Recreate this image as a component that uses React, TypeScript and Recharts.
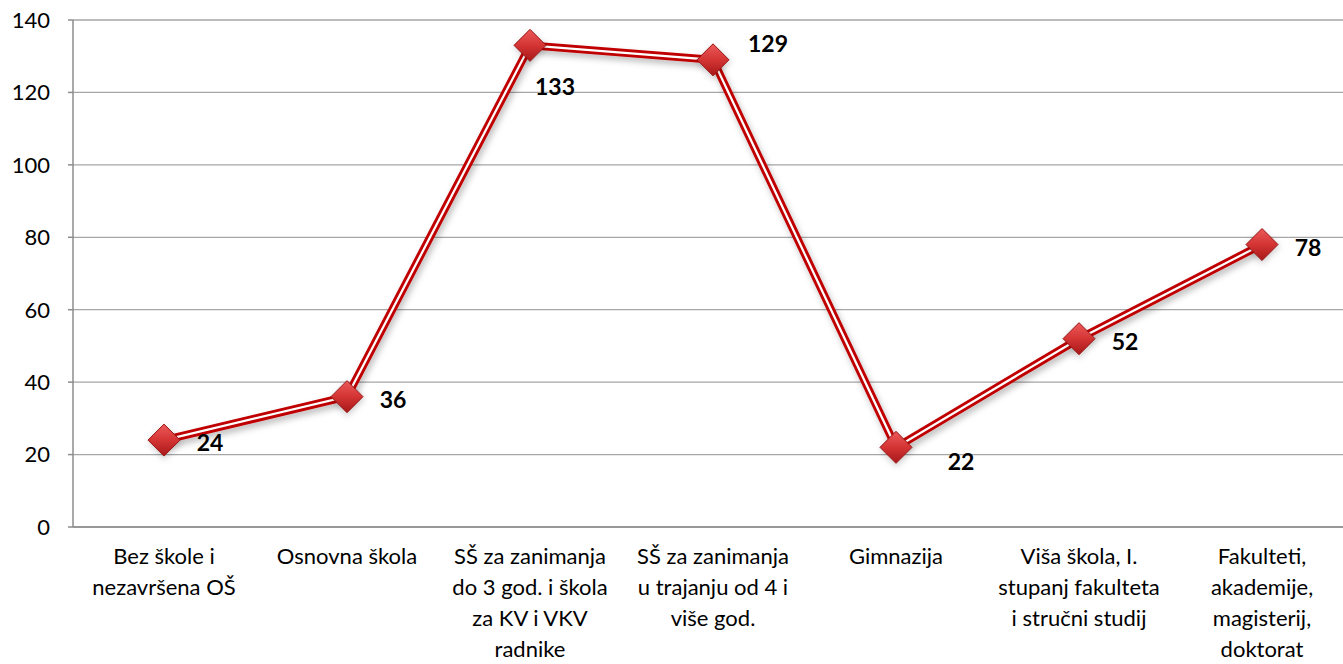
import React from "react";
import { CartesianGrid, LabelList, Line, LineChart, XAxis, YAxis } from "recharts";

const categories = [
  "Bez škole i\nnezavršena OŠ",
  "Osnovna škola",
  "SŠ za zanimanja\ndo 3 god. i škola\nza KV i VKV\nradnike",
  "SŠ za zanimanja\nu trajanju od 4 i\nviše god.",
  "Gimnazija",
  "Viša škola, I.\nstupanj fakulteta\ni stručni studij",
  "Fakulteti,\nakademije,\nmagisterij,\ndoktorat",
];
const values = [24, 36, 133, 129, 22, 52, 78];
const yTicks = [0, 20, 40, 60, 80, 100, 120, 140];
const labelPlacement = ["right", "right", "below", "above", "belowRight", "right", "right"];

const data = categories.map((c, i) => ({ name: c, value: values[i] }));

// offsets for the data labels
const placeOffset: Record<string, [number, number]> = {
  right: [46, 2],
  below: [25, 41],
  above: [55, -17],
  belowRight: [65, 14],
};

const font = "Lato, 'Open Sans', sans-serif";

const XTick = (props: any) => {
  const { x, y, payload } = props;
  const lines = String(payload.value).split("\n");
  return (
    <text x={x} y={y + 29} textAnchor="middle" fontSize={22} fill="#000" fontFamily={font}>
      {lines.map((l, i) => (
        <tspan key={i} x={x} dy={i === 0 ? 0 : 31}>
          {l}
        </tspan>
      ))}
    </text>
  );
};

const Diamond = (props: any) => {
  const { cx, cy } = props;
  if (cx == null || cy == null) return null;
  const r = 16;
  return (
    <g>
      <polygon
        points={`${cx},${cy - r + 2} ${cx + r + 2},${cy + 2} ${cx},${cy + r + 4} ${cx - r},${cy + 2}`}
        fill="rgba(0,0,0,0.18)"
        filter="url(#blur)"
      />
      <polygon
        points={`${cx},${cy - r} ${cx + r},${cy} ${cx},${cy + r} ${cx - r},${cy}`}
        fill="url(#diamondFill)"
        stroke="#9a1414"
        strokeWidth={1}
      />
    </g>
  );
};

const ValueLabel = (props: any) => {
  const { x, y, value, index } = props;
  const [dx, dy] = placeOffset[labelPlacement[index]] || [46, 2];
  return (
    <text
      x={x + dx}
      y={y + dy}
      textAnchor="middle"
      dominantBaseline="central"
      fontSize={23}
      fontWeight="bold"
      fill="#000"
      fontFamily={font}
    >
      {value}
    </text>
  );
};

export default function App() {
  return (
    <div style={{ position: "absolute", left: 0, top: 0, width: 1343, height: 664, background: "#fff" }}>
      <svg width={0} height={0} style={{ position: "absolute" }}>
        <defs>
          <linearGradient id="diamondFill" x1="0" y1="0" x2="0" y2="1">
            <stop offset="0%" stopColor="#ec5a5a" />
            <stop offset="50%" stopColor="#d43434" />
            <stop offset="100%" stopColor="#a81818" />
          </linearGradient>
          <filter id="blur" x="-50%" y="-50%" width="200%" height="200%">
            <feGaussianBlur stdDeviation="3" />
          </filter>
          <filter id="lineShadow" x="-10%" y="-10%" width="120%" height="120%">
            <feDropShadow dx="2" dy="4" stdDeviation="3" floodColor="#000" floodOpacity="0.25" />
          </filter>
        </defs>
      </svg>
      <LineChart width={1343} height={664} data={data} margin={{ top: 20, right: 0, bottom: 0, left: 0 }}>
        <CartesianGrid vertical={false} stroke="#a6a6a6" strokeWidth={1.3} />
        <XAxis
          dataKey="name"
          interval={0}
          tickLine={false}
          axisLine={{ stroke: "#8c8c8c", strokeWidth: 1.5 }}
          height={137}
          padding={{ left: 91, right: 81 }}
          tick={<XTick />}
        />
        <YAxis
          width={73}
          domain={[0, 140]}
          ticks={yTicks}
          interval={0}
          tickSize={5}
          tickMargin={18}
          axisLine={{ stroke: "#8c8c8c", strokeWidth: 1.5 }}
          tickLine={{ stroke: "#8c8c8c", strokeWidth: 1.5 }}
          tick={{ fontSize: 22, fill: "#000", fontFamily: font }}
        />
        <Line
          dataKey="value"
          type="linear"
          stroke="#c00000"
          strokeWidth={8}
          dot={false}
          activeDot={false}
          isAnimationActive={false}
          style={{ filter: "url(#lineShadow)" }}
        />
        <Line
          dataKey="value"
          type="linear"
          stroke="#ffffff"
          strokeWidth={2.2}
          dot={<Diamond />}
          activeDot={false}
          isAnimationActive={false}
        >
          <LabelList dataKey="value" content={<ValueLabel />} />
        </Line>
      </LineChart>
    </div>
  );
}
